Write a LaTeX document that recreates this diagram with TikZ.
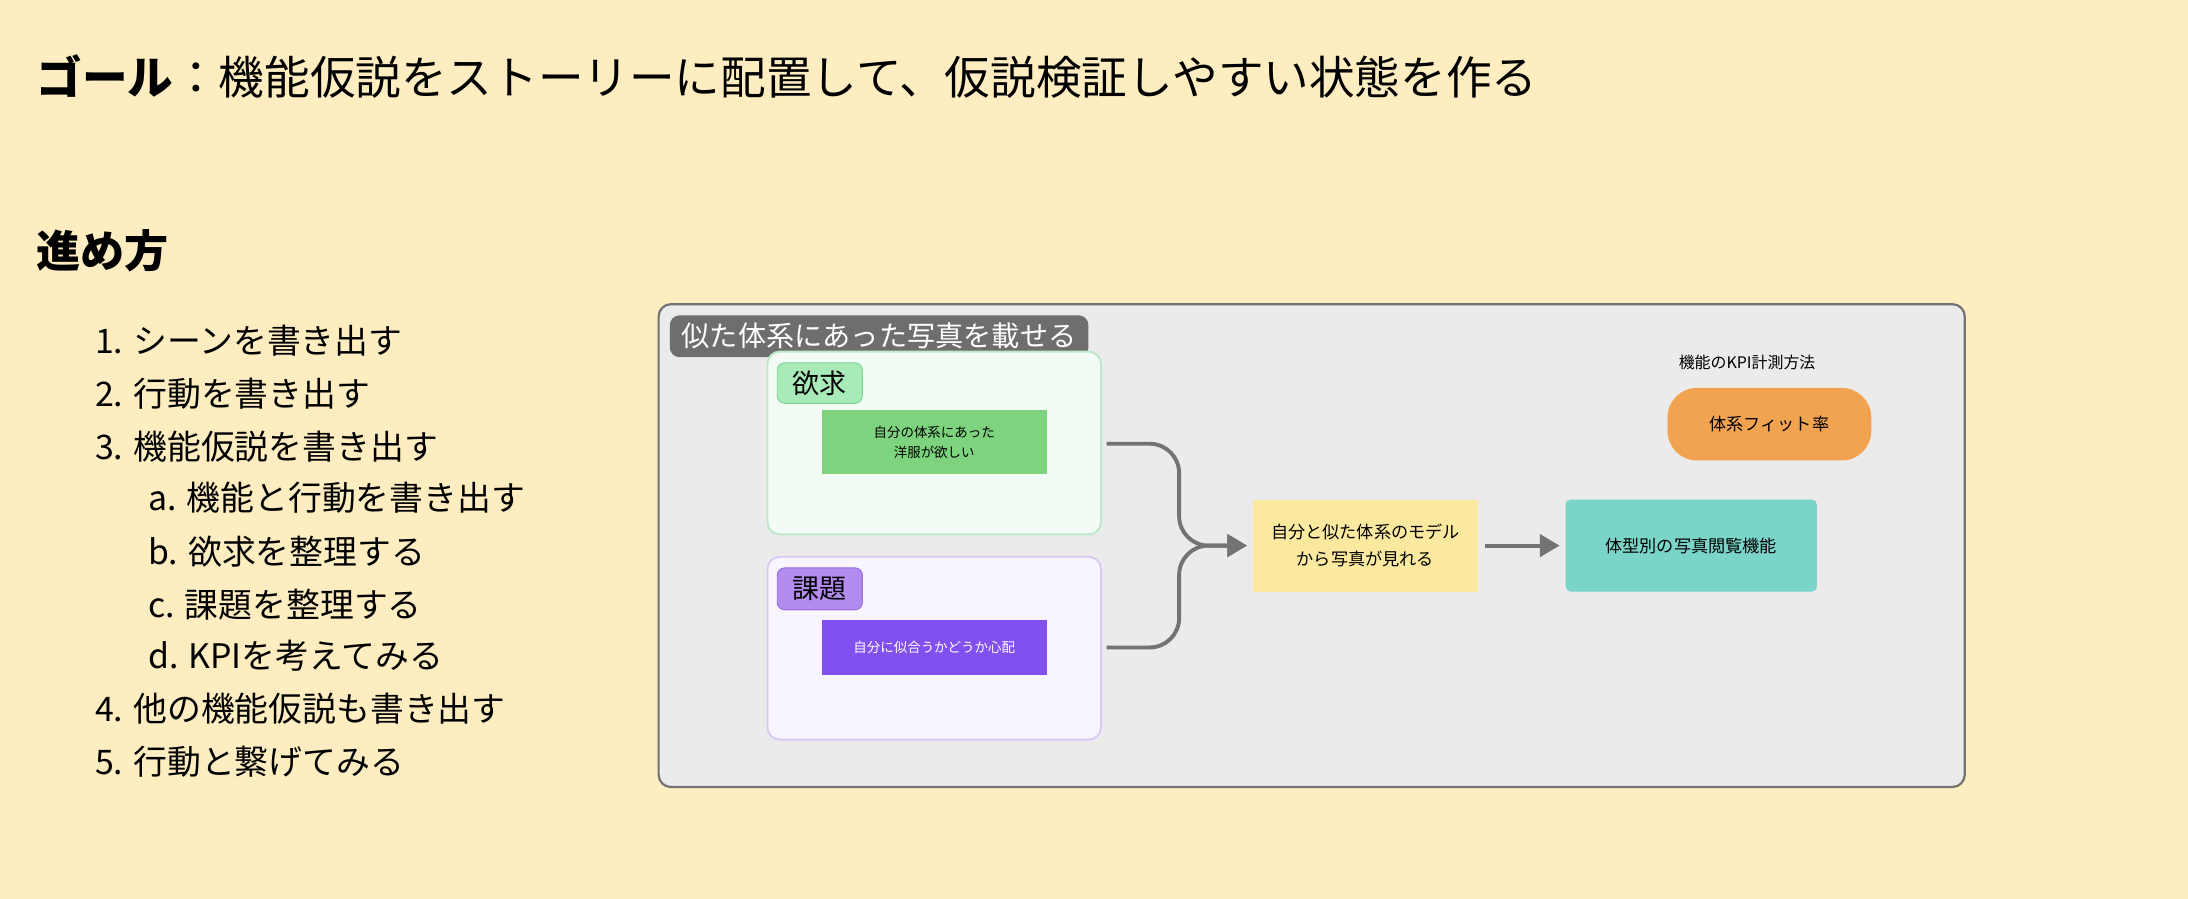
\documentclass[tikz,border=0pt]{standalone}
\usepackage{fontspec}
\setmainfont{Noto Sans CJK JP}
\usetikzlibrary{arrows.meta}
\definecolor{bg}{HTML}{FDEDC0}
\definecolor{panel}{HTML}{EBEBEB}
\begin{document}
\begin{tikzpicture}[x=0.02cm,y=-0.02cm,
  sticky/.style={font=\fontsize{5.5}{8}\selectfont,align=center,inner sep=0},
  li/.style={anchor=west,font=\fontsize{13.8}{16}\selectfont},
  conn/.style={draw=black!55,line width=1.6pt,rounded corners=12pt,-{Triangle[length=8pt,width=9pt]}}]
\fill[bg] (0,0) rectangle (1568,644);
\useasboundingbox (0,0) rectangle (1568,644);
\node[anchor=west,font=\fontsize{18.6}{22}\selectfont] (title) at (20,55) {\textbf{ゴール}：機能仮説をストーリーに配置して、仮説検証しやすい状態を作る};
\node[anchor=west,font=\bfseries\fontsize{18}{21}\selectfont] (h) at (20,180) {進め方};
\node[li] (l1) at (62,244) {1. シーンを書き出す};
\node[li] (l2) at (62,282) {2. 行動を書き出す};
\node[li] (l3) at (62,320) {3. 機能仮説を書き出す};
\node[li] (la) at (100,357) {a. 機能と行動を書き出す};
\node[li] (lb) at (100,395) {b. 欲求を整理する};
\node[li] (lc) at (100,433) {c. 課題を整理する};
\node[li] (ld) at (100,470) {d. KPIを考えてみる};
\node[li] (l4) at (62,508) {4. 他の機能仮説も書き出す};
\node[li] (l5) at (62,546) {5. 行動と繋げてみる};
% panel
\draw[fill=panel,draw=black!55,line width=0.9pt,rounded corners=5pt] (472,218) rectangle (1408,564);
\node[fill=black!57,text=white,rounded corners=4pt,minimum width=300*0.02cm,minimum height=30*0.02cm,inner sep=0,font=\fontsize{11.5}{13}\selectfont] (pl) at (630,241) {似た体系にあった写真を載せる};
% green card
\draw[fill={rgb,255:red,242;green,252;blue,244},draw={rgb,255:red,189;green,232;blue,201},line width=0.8pt,rounded corners=5pt] (550,252) rectangle (789,383);
\node[fill={rgb,255:red,168;green,235;blue,184},draw={rgb,255:red,130;green,210;blue,150},rounded corners=3pt,minimum width=61*0.02cm,minimum height=29*0.02cm,inner sep=0,font=\fontsize{11}{12}\selectfont] (g) at (587.5,274.5) {欲求};
\node[sticky,fill={rgb,255:red,126;green,212;blue,126},minimum width=161*0.02cm,minimum height=46*0.02cm] (s1) at (669.5,317) {自分の体系にあった\\洋服が欲しい};
% purple card
\draw[fill={rgb,255:red,248;green,245;blue,255},draw={rgb,255:red,217;green,201;blue,245},line width=0.8pt,rounded corners=5pt] (550,399) rectangle (789,530);
\node[fill={rgb,255:red,180;green,140;blue,240},draw={rgb,255:red,150;green,110;blue,220},rounded corners=3pt,minimum width=61*0.02cm,minimum height=30*0.02cm,inner sep=0,font=\fontsize{11}{12}\selectfont] (p) at (587.5,422) {課題};
\node[sticky,fill={rgb,255:red,131;green,80;blue,240},text=white,minimum width=161*0.02cm,minimum height=40*0.02cm] (s2) at (669.5,464) {自分に似合うかどうか心配};
% center
\node[sticky,fill={rgb,255:red,252;green,233;blue,160},minimum width=161*0.02cm,minimum height=66*0.02cm,font=\fontsize{7}{11}\selectfont] (y) at (978.5,391) {自分と似た体系のモデル\\から写真が見れる};
\node[sticky,fill={rgb,255:red,122;green,213;blue,200},minimum width=180*0.02cm,minimum height=66*0.02cm,rounded corners=2pt,font=\fontsize{7}{9}\selectfont] (t) at (1212,391) {体型別の写真閲覧機能};
\node[font=\fontsize{6.5}{8}\selectfont] (kl) at (1252,260) {機能のKPI計測方法};
\node[fill={rgb,255:red,242;green,163;blue,80},rounded corners=12pt,minimum width=146*0.02cm,minimum height=52*0.02cm,inner sep=0,font=\fontsize{7}{9}\selectfont] (o) at (1268,304) {体系フィット率};
\coordinate (c1) at (793,318);
\coordinate (c2) at (793,464);
\draw[conn] (c1) -- (845,318) -- (845,391) -- ([xshift=-0.08cm]y.west);
\draw[conn] (c2) -- (845,464) -- (845,391) -- ([xshift=-0.08cm]y.west);
\draw[conn] (y.east) ++(5,0) -- ([xshift=-0.08cm]t.west);
\end{tikzpicture}
\end{document}
